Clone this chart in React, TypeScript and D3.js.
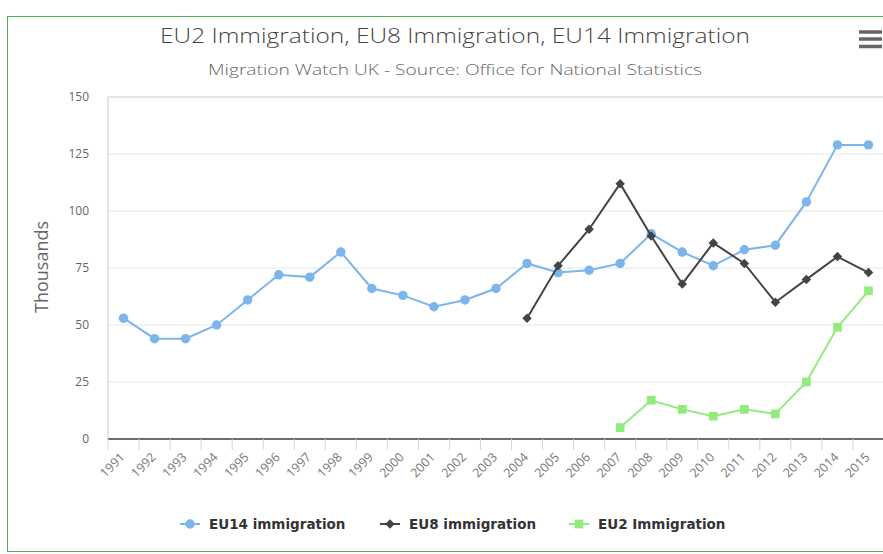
import React from "react";
import * as d3 from "d3";

const years = ["1991","1992","1993","1994","1995","1996","1997","1998","1999","2000","2001","2002","2003","2004","2005","2006","2007","2008","2009","2010","2011","2012","2013","2014","2015"];
const eu14: (number | null)[] = [53,44,44,50,61,72,71,82,66,63,58,61,66,77,73,74,77,90,82,76,83,85,104,129,129];
const eu8: (number | null)[] = [null,null,null,null,null,null,null,null,null,null,null,null,null,53,76,92,112,89,68,86,77,60,70,80,73];
const eu2: (number | null)[] = [null,null,null,null,null,null,null,null,null,null,null,null,null,null,null,null,5,17,13,10,13,11,25,49,65];
const yTicks = [0,25,50,75,100,125,150];

const seriesDefs = [
  { name: "EU14 immigration", data: eu14, color: "#7cb5ec", symbol: "circle" },
  { name: "EU8 immigration", data: eu8, color: "#434348", symbol: "diamond" },
  { name: "EU2 Immigration", data: eu2, color: "#90ed7d", symbol: "square" },
];

const W = 883, H = 554;
const left = 108, right = 884, top = 97, bottom = 439;

const wideDiamond = {
  draw(ctx: any, size: number) {
    const r = Math.sqrt(size) / 2;
    ctx.moveTo(0, -r);
    ctx.lineTo(r, 0);
    ctx.lineTo(0, r);
    ctx.lineTo(-r, 0);
    ctx.closePath();
  },
};

export default function App() {
  const x = d3.scaleBand<string>().domain(years).range([left, right]);
  const y = d3.scaleLinear().domain([0, 150]).range([bottom, top]);
  const cx = (yr: string) => (x(yr) as number) + x.bandwidth() / 2;
  const line = d3.line<[string, number | null]>()
    .defined(d => d[1] != null)
    .x(d => cx(d[0]))
    .y(d => y(d[1] as number));
  const symbolPath = (s: string) => {
    if (s === "circle") return d3.symbol().type(d3.symbolCircle).size(70)() as string;
    if (s === "diamond") return d3.symbol().type(wideDiamond as any).size(90)() as string;
    return d3.symbol().type(d3.symbolSquare).size(76)() as string;
  };
  const font = "'Open Sans', 'Noto Sans', sans-serif";
  const legendX = [180, 380, 569];
  return (
    <svg width={W} height={H} style={{ position: "absolute", left: 0, top: 0, background: "#fff" }} fontFamily={font}>
      <rect x={7.5} y={16.5} width={W} height={535} fill="#fff" stroke="#4caf50" strokeWidth={1} />
      <text x={455} y={43} textAnchor="middle" fontSize={21} fontWeight={300} fill="#444" textLength={590} lengthAdjust="spacingAndGlyphs">EU2 Immigration, EU8 Immigration, EU14 Immigration</text>
      <text x={455} y={75} textAnchor="middle" fontSize={15} fontWeight={300} fill="#666" textLength={494} lengthAdjust="spacingAndGlyphs">Migration Watch UK - Source: Office for National Statistics</text>
      <g stroke="#666" strokeWidth={3.5}>
        {[32, 39, 46.5].map(v => <line key={v} x1={859} x2={882} y1={v} y2={v} />)}
      </g>
      {yTicks.map(t => (
        <g key={t}>
          {t > 0 && t < 150 && <line x1={left} x2={right} y1={y(t)} y2={y(t)} stroke="#e6e6e6" strokeWidth={1} />}
          <text x={89} y={y(t) + 4} textAnchor="end" fontSize={12} fill="#666">{t}</text>
        </g>
      ))}
      <rect x={left} y={top} width={right - left} height={bottom - top} fill="none" stroke="#cccccc" strokeWidth={1} />
      <line x1={left} x2={right} y1={bottom} y2={bottom} stroke="#444" strokeWidth={1.5} />
      {years.map((yr, i) => (
        <line key={"t" + yr} x1={left + i * x.bandwidth()} x2={left + i * x.bandwidth()} y1={bottom} y2={bottom + 11} stroke="#ccd6eb" strokeWidth={1} />
      ))}
      {years.map(yr => (
        <text key={"l" + yr} transform={`translate(${cx(yr) + 2},${bottom + 19}) rotate(-45)`} textAnchor="end" fontSize={12.5} fill="#777">{yr}</text>
      ))}
      <text transform={`translate(48,267) rotate(-90)`} textAnchor="middle" fontSize={18} fill="#666">Thousands</text>
      {seriesDefs.map(s => {
        const pts: [string, number | null][] = years.map((yr, i) => [yr, s.data[i]]);
        return (
          <g key={s.name}>
            <path d={line(pts) as string} fill="none" stroke={s.color} strokeWidth={2} />
            {pts.filter(p => p[1] != null).map(p => (
              <path key={p[0]} d={symbolPath(s.symbol)} transform={`translate(${cx(p[0])},${y(p[1] as number)})`} fill={s.color} />
            ))}
          </g>
        );
      })}
      {seriesDefs.map((s, i) => (
        <g key={"lg" + s.name} transform={`translate(${legendX[i]},524)`}>
          <line x1={0} x2={20} y1={0} y2={0} stroke={s.color} strokeWidth={2} />
          <path d={symbolPath(s.symbol)} transform="translate(10,0)" fill={s.color} />
          <text x={29} y={4.5} fontSize={13.5} fontWeight="bold" fill="#333" fontFamily="'DejaVu Sans', sans-serif">{s.name}</text>
        </g>
      ))}
    </svg>
  );
}
